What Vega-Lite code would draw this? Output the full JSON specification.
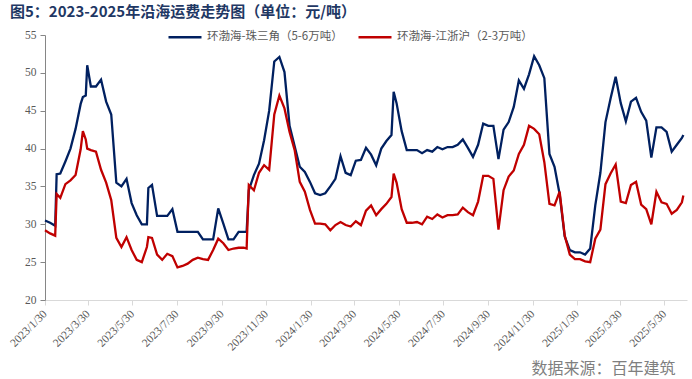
{
  "$schema": "https://vega.github.io/schema/vega-lite/v6.json",
  "width": 642,
  "height": 265,
  "autosize": {"type": "none"},
  "padding": {"left": 45, "top": 35, "right": 5, "bottom": 79},
  "background": "white",
  "config": {"view": {"stroke": null}},
  "title": {
    "text": "图5：2023-2025年沿海运费走势图（单位：元/吨）",
    "anchor": "start",
    "frame": "group",
    "dx": -35,
    "dy": 11,
    "offset": 10,
    "font": "Noto Sans CJK SC",
    "fontSize": 15,
    "fontWeight": "bold",
    "color": "#1f3864"
  },
  "data": {
    "values": [
      {"d": "2023-01-30", "b": 30.5, "r": 29.2},
      {"d": "2023-02-06", "b": 30.2, "r": 28.8},
      {"d": "2023-02-13", "b": 29.8, "r": 28.5},
      {"d": "2023-02-15", "b": 36.6, "r": 34.0},
      {"d": "2023-02-20", "b": 36.7, "r": 33.5},
      {"d": "2023-02-27", "b": 38.3, "r": 35.3},
      {"d": "2023-03-06", "b": 40.0, "r": 35.8},
      {"d": "2023-03-13", "b": 42.6, "r": 36.5},
      {"d": "2023-03-20", "b": 45.9, "r": 39.9},
      {"d": "2023-03-23", "b": 46.8, "r": 42.3},
      {"d": "2023-03-27", "b": 47.0, "r": 41.2},
      {"d": "2023-03-29", "b": 51.0, "r": 40.0},
      {"d": "2023-04-03", "b": 48.2, "r": 39.8},
      {"d": "2023-04-10", "b": 48.2, "r": 39.6},
      {"d": "2023-04-17", "b": 49.1, "r": 37.2},
      {"d": "2023-04-24", "b": 46.2, "r": 35.5},
      {"d": "2023-05-01", "b": 44.5, "r": 33.2},
      {"d": "2023-05-08", "b": 35.5, "r": 28.2},
      {"d": "2023-05-15", "b": 35.0, "r": 27.0},
      {"d": "2023-05-22", "b": 36.0, "r": 28.3},
      {"d": "2023-05-29", "b": 32.8, "r": 26.6},
      {"d": "2023-06-05", "b": 31.2, "r": 25.3},
      {"d": "2023-06-12", "b": 30.0, "r": 25.0},
      {"d": "2023-06-19", "b": 30.0, "r": 27.0},
      {"d": "2023-06-21", "b": 34.8, "r": 28.3},
      {"d": "2023-06-26", "b": 35.2, "r": 28.2},
      {"d": "2023-07-03", "b": 31.1, "r": 26.0},
      {"d": "2023-07-10", "b": 31.1, "r": 25.3},
      {"d": "2023-07-17", "b": 31.1, "r": 26.1},
      {"d": "2023-07-24", "b": 32.0, "r": 25.8},
      {"d": "2023-07-31", "b": 29.0, "r": 24.3},
      {"d": "2023-08-07", "b": 29.0, "r": 24.5},
      {"d": "2023-08-14", "b": 29.0, "r": 24.8},
      {"d": "2023-08-21", "b": 29.0, "r": 25.3},
      {"d": "2023-08-28", "b": 29.0, "r": 25.6},
      {"d": "2023-09-04", "b": 28.0, "r": 25.4},
      {"d": "2023-09-11", "b": 28.0, "r": 25.3},
      {"d": "2023-09-18", "b": 28.0, "r": 26.6},
      {"d": "2023-09-25", "b": 32.1, "r": 28.1},
      {"d": "2023-10-02", "b": 30.1, "r": 27.5},
      {"d": "2023-10-09", "b": 28.0, "r": 26.6},
      {"d": "2023-10-16", "b": 28.0, "r": 26.8},
      {"d": "2023-10-23", "b": 29.0, "r": 26.9},
      {"d": "2023-10-30", "b": 29.0, "r": 26.9},
      {"d": "2023-11-03", "b": 29.0, "r": 26.8},
      {"d": "2023-11-06", "b": 34.5, "r": 35.2},
      {"d": "2023-11-13", "b": 36.5, "r": 34.5},
      {"d": "2023-11-20", "b": 38.0, "r": 36.8},
      {"d": "2023-11-27", "b": 41.1, "r": 37.8},
      {"d": "2023-12-04", "b": 45.0, "r": 37.2},
      {"d": "2023-12-11", "b": 51.5, "r": 44.5},
      {"d": "2023-12-18", "b": 52.1, "r": 47.0},
      {"d": "2023-12-25", "b": 50.1, "r": 45.3},
      {"d": "2024-01-01", "b": 43.0, "r": 42.2},
      {"d": "2024-01-08", "b": 40.3, "r": 39.8},
      {"d": "2024-01-15", "b": 37.6, "r": 35.6},
      {"d": "2024-01-22", "b": 36.9, "r": 34.3},
      {"d": "2024-01-29", "b": 35.6, "r": 31.9},
      {"d": "2024-02-05", "b": 34.1, "r": 30.1},
      {"d": "2024-02-12", "b": 33.85, "r": 30.1},
      {"d": "2024-02-19", "b": 34.1, "r": 30.0},
      {"d": "2024-02-26", "b": 35.0, "r": 29.2},
      {"d": "2024-03-04", "b": 36.0, "r": 29.9},
      {"d": "2024-03-11", "b": 39.0, "r": 30.3},
      {"d": "2024-03-18", "b": 36.8, "r": 29.9},
      {"d": "2024-03-25", "b": 36.5, "r": 29.7},
      {"d": "2024-04-01", "b": 38.4, "r": 30.4},
      {"d": "2024-04-08", "b": 38.5, "r": 29.9},
      {"d": "2024-04-15", "b": 40.1, "r": 31.8},
      {"d": "2024-04-22", "b": 39.2, "r": 32.5},
      {"d": "2024-04-29", "b": 37.8, "r": 31.2},
      {"d": "2024-05-06", "b": 40.0, "r": 32.0},
      {"d": "2024-05-13", "b": 41.0, "r": 32.7},
      {"d": "2024-05-20", "b": 41.8, "r": 33.6},
      {"d": "2024-05-23", "b": 47.5, "r": 36.7},
      {"d": "2024-05-27", "b": 46.0, "r": 35.5},
      {"d": "2024-06-03", "b": 42.3, "r": 32.0},
      {"d": "2024-06-10", "b": 39.8, "r": 30.2},
      {"d": "2024-06-17", "b": 39.8, "r": 30.2},
      {"d": "2024-06-24", "b": 39.8, "r": 30.3},
      {"d": "2024-07-01", "b": 39.4, "r": 30.0},
      {"d": "2024-07-08", "b": 39.8, "r": 31.0},
      {"d": "2024-07-15", "b": 39.6, "r": 30.7},
      {"d": "2024-07-22", "b": 40.2, "r": 31.3},
      {"d": "2024-07-29", "b": 39.9, "r": 30.9},
      {"d": "2024-08-05", "b": 40.2, "r": 31.2},
      {"d": "2024-08-12", "b": 40.2, "r": 31.2},
      {"d": "2024-08-19", "b": 40.5, "r": 31.3},
      {"d": "2024-08-26", "b": 41.2, "r": 32.2},
      {"d": "2024-09-02", "b": 40.1, "r": 31.6},
      {"d": "2024-09-09", "b": 38.9, "r": 31.2},
      {"d": "2024-09-16", "b": 40.5, "r": 33.0},
      {"d": "2024-09-23", "b": 43.3, "r": 36.4},
      {"d": "2024-09-30", "b": 43.0, "r": 36.4},
      {"d": "2024-10-07", "b": 43.0, "r": 36.0},
      {"d": "2024-10-14", "b": 38.6, "r": 29.3},
      {"d": "2024-10-21", "b": 42.5, "r": 34.5},
      {"d": "2024-10-28", "b": 43.5, "r": 36.3},
      {"d": "2024-11-04", "b": 45.5, "r": 37.1},
      {"d": "2024-11-11", "b": 49.0, "r": 39.3},
      {"d": "2024-11-18", "b": 47.9, "r": 40.5},
      {"d": "2024-11-25", "b": 49.8, "r": 43.0},
      {"d": "2024-12-02", "b": 52.2, "r": 42.6},
      {"d": "2024-12-09", "b": 51.0, "r": 41.9},
      {"d": "2024-12-16", "b": 49.3, "r": 38.2},
      {"d": "2024-12-23", "b": 39.3, "r": 32.7},
      {"d": "2024-12-30", "b": 37.6, "r": 32.5},
      {"d": "2025-01-06", "b": 34.0, "r": 34.3},
      {"d": "2025-01-13", "b": 28.4, "r": 28.5},
      {"d": "2025-01-20", "b": 26.6, "r": 26.0},
      {"d": "2025-01-27", "b": 26.3, "r": 25.4},
      {"d": "2025-02-03", "b": 26.3, "r": 25.4},
      {"d": "2025-02-10", "b": 26.0, "r": 25.1},
      {"d": "2025-02-17", "b": 26.8, "r": 25.0},
      {"d": "2025-02-24", "b": 32.5, "r": 28.1},
      {"d": "2025-03-03", "b": 36.8, "r": 29.3},
      {"d": "2025-03-10", "b": 43.5, "r": 35.3},
      {"d": "2025-03-17", "b": 46.6, "r": 36.7},
      {"d": "2025-03-24", "b": 49.5, "r": 37.9},
      {"d": "2025-03-31", "b": 46.0, "r": 33.0},
      {"d": "2025-04-07", "b": 43.6, "r": 32.8},
      {"d": "2025-04-14", "b": 46.2, "r": 35.2},
      {"d": "2025-04-21", "b": 46.7, "r": 35.6},
      {"d": "2025-04-28", "b": 44.85, "r": 32.6},
      {"d": "2025-05-05", "b": 43.7, "r": 32.0},
      {"d": "2025-05-12", "b": 38.8, "r": 30.0},
      {"d": "2025-05-19", "b": 42.8, "r": 34.3},
      {"d": "2025-05-26", "b": 42.8, "r": 32.9},
      {"d": "2025-06-02", "b": 42.2, "r": 32.7},
      {"d": "2025-06-09", "b": 39.6, "r": 31.4},
      {"d": "2025-06-16", "b": 40.5, "r": 31.9},
      {"d": "2025-06-23", "b": 41.4, "r": 32.9},
      {"d": "2025-06-25", "b": 41.8, "r": 33.8}
    ]
  },
  "transform": [{"fold": ["b", "r"], "as": ["series", "value"]}],
  "mark": {"type": "line", "strokeWidth": 2.3, "interpolate": "linear"},
  "encoding": {
    "x": {
      "field": "d",
      "type": "temporal",
      "scale": {
        "type": "utc",
        "domain": [
          {"year": 2023, "month": 1, "date": 30, "utc": true},
          {"year": 2025, "month": 6, "date": 30, "utc": true}
        ]
      },
      "axis": {
        "values": [
          {"year": 2023, "month": 1, "date": 30, "utc": true},
          {"year": 2023, "month": 3, "date": 30, "utc": true},
          {"year": 2023, "month": 5, "date": 30, "utc": true},
          {"year": 2023, "month": 7, "date": 30, "utc": true},
          {"year": 2023, "month": 9, "date": 30, "utc": true},
          {"year": 2023, "month": 11, "date": 30, "utc": true},
          {"year": 2024, "month": 1, "date": 30, "utc": true},
          {"year": 2024, "month": 3, "date": 30, "utc": true},
          {"year": 2024, "month": 5, "date": 30, "utc": true},
          {"year": 2024, "month": 7, "date": 30, "utc": true},
          {"year": 2024, "month": 9, "date": 30, "utc": true},
          {"year": 2024, "month": 11, "date": 30, "utc": true},
          {"year": 2025, "month": 1, "date": 30, "utc": true},
          {"year": 2025, "month": 3, "date": 30, "utc": true},
          {"year": 2025, "month": 5, "date": 30, "utc": true}
        ],
        "format": "%Y/%-m/%-d",
        "labelAngle": -45,
        "labelAlign": "right",
        "labelBaseline": "middle",
        "labelPadding": 7,
        "labelFont": "Liberation Serif",
        "labelFontSize": 11.5,
        "labelColor": "#595959",
        "labelOverlap": false,
        "labelFlush": false,
        "grid": false,
        "domainColor": "#d9d9d9",
        "tickColor": "#d9d9d9",
        "tickSize": 5,
        "title": "数据来源：百年建筑",
        "titleX": 630,
        "titleY": 68,
        "titleAlign": "right",
        "titleAnchor": null,
        "titleBaseline": "middle",
        "titleFont": "Noto Sans CJK SC",
        "titleFontSize": 16,
        "titleFontWeight": "normal",
        "titleColor": "#7f7f7f"
      }
    },
    "y": {
      "field": "value",
      "type": "quantitative",
      "scale": {"domain": [20, 55], "nice": false, "zero": false},
      "axis": {
        "values": [20, 25, 30, 35, 40, 45, 50, 55],
        "grid": false,
        "title": null,
        "labelFont": "Liberation Serif",
        "labelFontSize": 11.5,
        "labelColor": "#595959",
        "labelPadding": 4,
        "domainColor": "#868686",
        "tickColor": "#868686",
        "tickSize": 5
      }
    },
    "color": {
      "field": "series",
      "type": "nominal",
      "scale": {"domain": ["b", "r"], "range": ["#002060", "#C00000"]},
      "legend": {
        "title": null,
        "orient": "none",
        "legendX": 122,
        "legendY": -16,
        "direction": "horizontal",
        "symbolType": "stroke",
        "symbolSize": 1089,
        "symbolStrokeWidth": 2.5,
        "labelFont": "Noto Sans CJK SC",
        "labelFontSize": 11.5,
        "labelColor": "#595959",
        "labelOffset": 4,
        "columnPadding": 10,
        "labelLimit": 300,
        "labelExpr": "datum.label == 'b' ? '环渤海-珠三角（5-6万吨）' : '环渤海-江浙沪（2-3万吨）'"
      }
    }
  }
}
